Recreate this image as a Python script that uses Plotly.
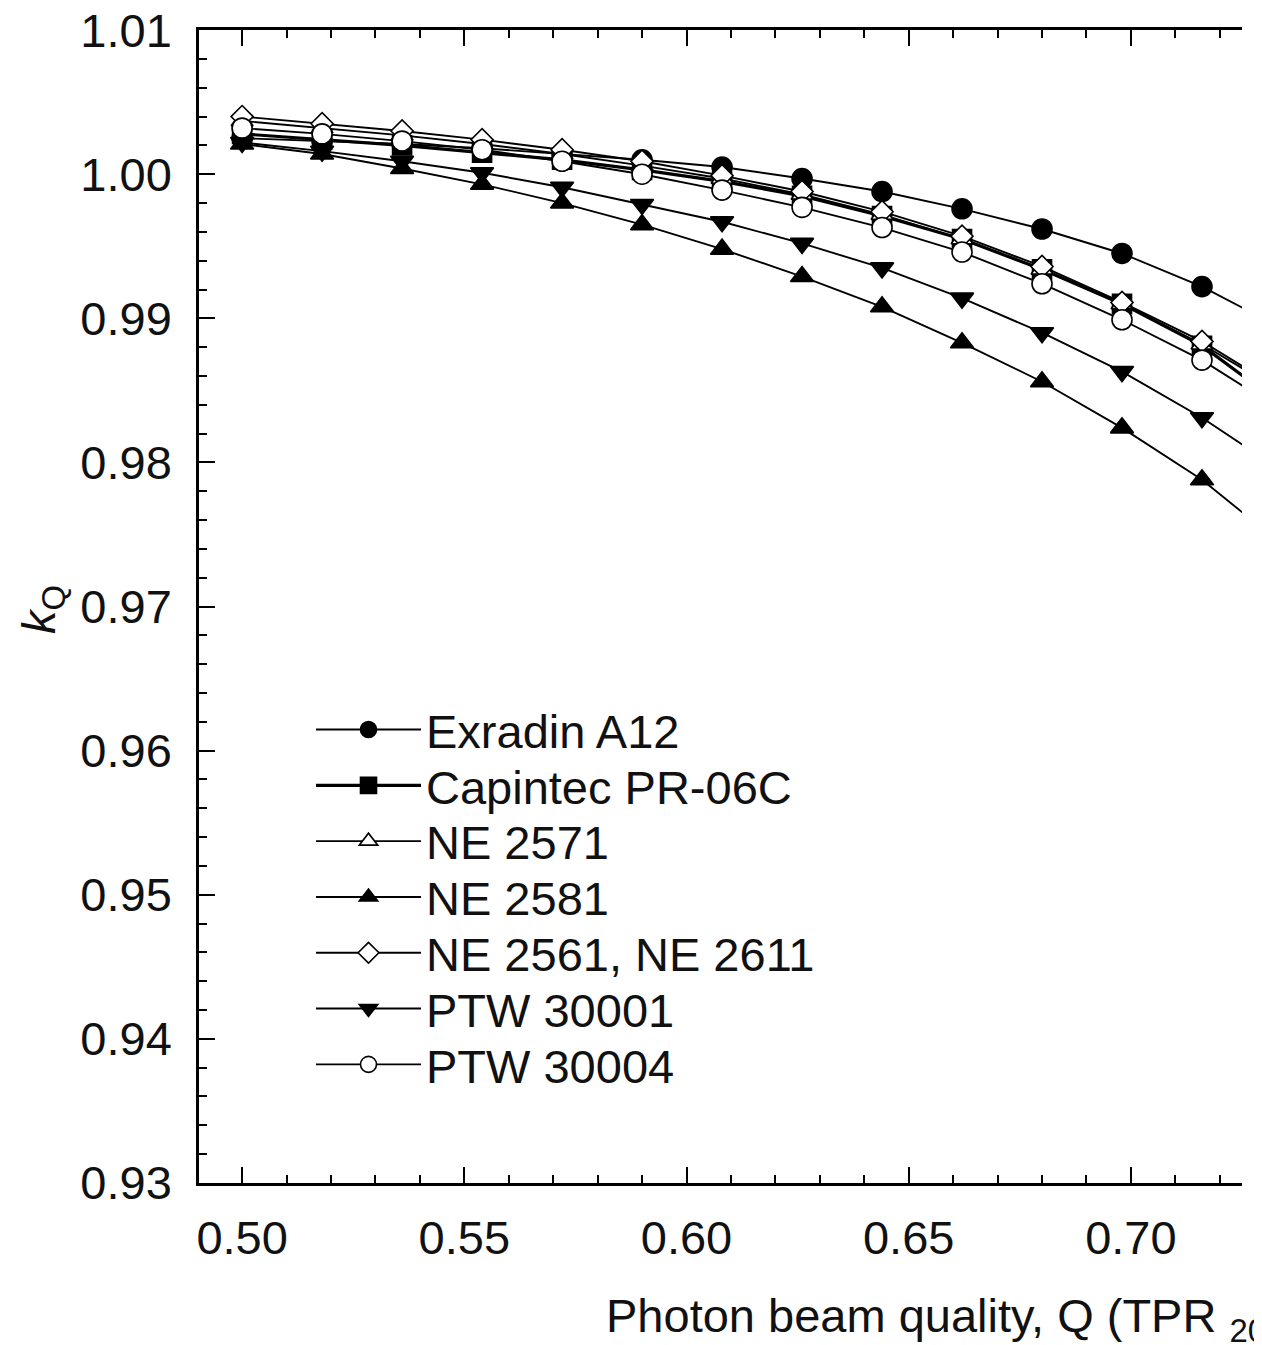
import plotly.graph_objects as go

# Beam quality Q (TPR20,10); last point lies just beyond the visible range
q = [0.500, 0.518, 0.536, 0.554, 0.572, 0.590, 0.608, 0.626, 0.644, 0.662, 0.680, 0.698, 0.716, 0.734]

exradin_a12 = [1.0025, 1.0023, 1.0021, 1.0018, 1.0014, 1.0010, 1.0005, 0.9997, 0.9988, 0.9976, 0.9962, 0.9945, 0.9922, 0.9893]
capintec_pr06c = [1.0028, 1.0024, 1.0020, 1.0015, 1.0010, 1.0003, 0.9995, 0.9985, 0.9971, 0.9955, 0.9934, 0.9910, 0.9881, 0.9840]
ne_2571 = [1.0037, 1.0032, 1.0027, 1.0021, 1.0014, 1.0006, 0.9997, 0.9986, 0.9972, 0.9955, 0.9934, 0.9910, 0.9882, 0.9849]
ne_2581 = [1.0021, 1.0014, 1.0004, 0.9993, 0.9980, 0.9965, 0.9948, 0.9929, 0.9908, 0.9883, 0.9856, 0.9824, 0.9788, 0.9743]
ne_2561_2611 = [1.0040, 1.0035, 1.0030, 1.0024, 1.0017, 1.0009, 0.9999, 0.9988, 0.9974, 0.9957, 0.9936, 0.9911, 0.9884, 0.9850]
ptw_30001 = [1.0022, 1.0016, 1.0009, 1.0001, 0.9991, 0.9979, 0.9967, 0.9952, 0.9935, 0.9914, 0.9890, 0.9863, 0.9831, 0.9794]
ptw_30004 = [1.0032, 1.0028, 1.0023, 1.0017, 1.0009, 1.0000, 0.9989, 0.9977, 0.9963, 0.9946, 0.9924, 0.9899, 0.9871, 0.9836]

series_names = ["Exradin A12", "Capintec PR-06C", "NE 2571", "NE 2581",
                "NE 2561, NE 2611", "PTW 30001", "PTW 30004"]
series_values = [exradin_a12, capintec_pr06c, ne_2571, ne_2581,
                 ne_2561_2611, ptw_30001, ptw_30004]

x_ticks = [0.50, 0.55, 0.60, 0.65, 0.70]
x_ticklabels = ["0.50", "0.55", "0.60", "0.65", "0.70"]
y_ticks = [0.93, 0.94, 0.95, 0.96, 0.97, 0.98, 0.99, 1.00, 1.01]
y_ticklabels = ["0.93", "0.94", "0.95", "0.96", "0.97", "0.98", "0.99", "1.00", "1.01"]

FONT = "Liberation Sans, Arial, Helvetica, sans-serif"
FS = 47
TXT = "#111"

# layout geometry (figure pixels)
W, H = 1262, 1345
ML, MR, MT, MB = 191, 28, 22, 170
PW, PH = W - ML - MR, H - MT - MB
OFF = 8  # page body margin


def px_x(sx):
    return (sx - OFF - ML) / PW


def px_y(sy):
    return (H - MB - (sy - OFF)) / PH


styles = [
    dict(symbol="circle", size=20, fill="black", lw=1.9),
    dict(symbol="square", size=19, fill="black", lw=3.2),
    dict(symbol="triangle-up", size=19, fill="white", lw=1.9),
    dict(symbol="triangle-up", size=20, fill="black", lw=1.9),
    dict(symbol="diamond", size=17, fill="white", lw=1.9),
    dict(symbol="triangle-down", size=20, fill="black", lw=1.9),
    dict(symbol="circle", size=20, fill="white", lw=1.9),
]

fig = go.Figure()
legend_ids = []
for i, (name, vals, st) in enumerate(zip(series_names, series_values, styles)):
    lid = "legend" if i == 0 else f"legend{i + 1}"
    legend_ids.append(lid)
    fig.add_trace(go.Scatter(
        x=q, y=vals, name=name, mode="lines+markers", legend=lid,
        line=dict(color="black", width=st["lw"]),
        marker=dict(symbol=st["symbol"], size=st["size"], color=st["fill"],
                    line=dict(color="black", width=1.6)),
        cliponaxis=True,
    ))

axis_common = dict(
    showline=True, linecolor="black", linewidth=2.5,
    ticks="inside", ticklen=16, tickwidth=2, tickcolor="black",
    showgrid=False, zeroline=False, automargin=False,
    ticklabeloverflow="allow",
    tickfont=dict(family=FONT, size=FS, color=TXT),
)

fig.update_xaxes(
    **axis_common,
    range=[0.4903, 0.725],
    tickvals=x_ticks, ticktext=x_ticklabels,
    mirror="ticks",
    ticklabelstandoff=12,
    minor=dict(dtick=0.01, tick0=0.5, ticks="inside", ticklen=8, tickwidth=2, tickcolor="black"),
)
fig.update_yaxes(
    **axis_common,
    range=[0.92999, 1.01001],
    tickvals=y_ticks, ticktext=y_ticklabels,
    mirror=False,
    ticklabelstandoff=15,
    minor=dict(dtick=0.002, tick0=0.93, ticks="inside", ticklen=8, tickwidth=2, tickcolor="black"),
)

layout_legends = {}
legend_top, legend_step = 731, 55.8
for i, lid in enumerate(legend_ids):
    layout_legends[lid] = dict(
        x=px_x(311), y=px_y(legend_top + i * legend_step - 1),
        xanchor="left", yanchor="middle",
        bgcolor="rgba(0,0,0,0)", borderwidth=0,
        font=dict(family=FONT, size=FS, color=TXT),
        itemwidth=105, tracegroupgap=0,
    )

fig.update_layout(
    width=W, height=H,
    margin=dict(l=ML, r=MR, t=MT, b=MB, autoexpand=False),
    paper_bgcolor="white", plot_bgcolor="white",
    font=dict(family=FONT, size=FS, color=TXT),
    showlegend=True,
    annotations=[
        dict(text="Photon beam quality, Q (TPR <sub>20,10</sub>)",
             xref="paper", yref="paper",
             x=px_x(604), y=px_y(1319),
             xanchor="left", yanchor="middle", showarrow=False,
             font=dict(family=FONT, size=FS, color=TXT)),
        dict(text="<i>k</i><sub>Q</sub>",
             xref="paper", yref="paper",
             x=px_x(42), y=px_y(610),
             xanchor="center", yanchor="middle", showarrow=False, textangle=-90,
             font=dict(family=FONT, size=FS, color=TXT)),
    ],
    **layout_legends,
)

fig.write_html("out.html")
